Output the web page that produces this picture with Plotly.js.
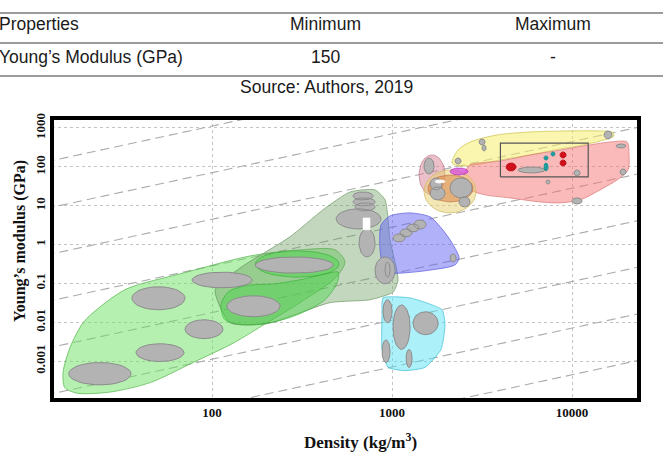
<!DOCTYPE html>
<html>
<head>
<meta charset="utf-8">
<script src="https://cdn.plot.ly/plotly-3.0.1.min.js"></script>
<style>
  html, body { margin: 0; padding: 0; background: #fff; }
  #chart { width: 663px; height: 456px; }
</style>
</head>
<body>
<div id="chart"></div>
<script>
// ---------- table shown above the chart ----------
const tableHeader = ['Properties', 'Minimum', 'Maximum'];
const tableRow = ['Young’s Modulus (GPa)', '150', '-'];
const tableSource = 'Source: Authors, 2019';

// ---------- axes ----------
const densityTicks = [100, 1000, 10000];
const densityTickText = ['100', '1000', '10000'];
const modulusTicks = [0.001, 0.01, 0.1, 1, 10, 100, 1000];
const modulusTickText = ['0.001', '0.01', '0.1', '1', '10', '100', '1000'];

// ---------- E/rho guide lines: log10 of the constant E/rho ----------
const guideLogC = [1.05, -0.15, -1.35, -2.55, -3.75, -4.95, -6.15, -7.35];
const guideDensity = [10, 30000];

// ---------- material family envelopes (density kg/m3, modulus GPa) ----------
const foamDensity = [14.9, 16.3, 19.2, 23.9, 33.7, 69, 163, 308, 483, 548, 483, 308, 202, 131, 78.4, 45.3, 27.1, 17.8, 15.2];
const foamModulus = [0.00053, 0.0023, 0.0097, 0.025, 0.073, 0.184, 0.51, 0.73, 0.73, 0.355, 0.137, 0.032, 0.0097, 0.0029, 0.00092, 0.00028, 0.00016, 0.00015, 0.00021];

const naturalDensity = [104, 143, 271, 413, 585, 805, 915, 975, 1080, 1013, 755, 453, 202, 126];
const naturalModulus = [0.068, 0.249, 1.58, 7.8, 22.6, 25.5, 14.1, 1.32, 0.124, 0.060, 0.038, 0.032, 0.0092, 0.0097];

const rigidFoamDensity = [112, 123, 152, 224, 308, 424, 502, 496, 424, 308, 224, 152, 118];
const rigidFoamModulus = [0.028, 0.060, 0.087, 0.098, 0.124, 0.174, 0.195, 0.104, 0.038, 0.0166, 0.0103, 0.0086, 0.0116];

const polymerDensity = [869, 975, 1259, 1627, 1896, 2156, 2357, 2240, 1627, 1108, 915, 858];
const polymerModulus = [3.2, 5.47, 6.53, 5.16, 2.52, 1.1, 0.455, 0.30, 0.22, 0.184, 0.195, 0.73];

const elastomerDensity = [891, 1259, 1896, 1970, 1872, 1525, 1181, 951, 880, 880];
const elastomerModulus = [0.0424, 0.0424, 0.021, 0.0086, 0.0020, 0.00069, 0.00057, 0.00069, 0.0020, 0.0156];

const ceramicDensity = [2156, 2328, 2713, 3833, 5843, 9141, 14310, 16680, 17100, 14310, 11510, 8040, 5843, 3981, 3083, 2387];
const ceramicModulus = [125.6, 272, 436, 661, 789, 838, 838, 789, 623, 463, 365, 272, 202, 150, 118, 105];

const metalDensity = [2545, 2713, 3981, 5843, 8040, 11510, 16260, 20220, 20730, 20470, 17790, 14310, 11080, 8575, 6640, 4524, 3287, 2713, 2480];
const metalModulus = [73.7, 111.6, 141, 202, 256, 344, 436, 436, 202, 83, 46, 25.5, 14.1, 11.8, 12.5, 15.9, 19, 25.5, 40.8];

// oval families: [density min, density max, modulus min, modulus max]
const flexFoamRing = [174, 508, 0.145, 0.69];
const glassOval = [1413, 1970, 19, 202];
const compositeOval = [1505, 2930, 6.53, 83];
const cfrpOval = [1585, 2819, 12.5, 61.8];
const gfrpOval = [2101, 2645, 61.8, 93.5];

// ---------- individual material bubbles (ranges) ----------
const bubbleDensityMin = [16, 37.8, 70.8, 35.9, 77.5, 121, 174, 489, 608, 608, 624, 656, 805,
  1013, 1108, 1212, 1324, 2101,
  891, 1013, 1308, 880, 1197,
  1505, 1627, 2101, 1627, 2357,
  3044, 3163, 2240, 15050,
  5013, 10260, 10000, 7171, 18480, 17560];
const bubbleDensityMax = [35.5, 69.9, 115, 70.8, 167, 239, 471, 869, 784, 805, 805, 805, 1039,
  1181, 1292, 1413, 1545, 2269,
  1000, 1259, 1803, 975, 1292,
  1711, 1970, 2784, 1896, 2713,
  3287, 3329, 2418, 16680,
  7078, 11080, 11370, 7545, 19960, 19960];
const bubbleModulusMin = [0.000245, 0.00098, 0.0038, 0.021, 0.077, 0.0139, 0.184, 2.52, 14.1, 9.9, 7.35, 0.48, 0.098,
  1.17, 1.58, 2.12, 2.52, 0.355,
  0.0097, 0.0020, 0.0048, 0.00092, 0.00069,
  65.5, 14.1, 15.9, 25.5, 9.3,
  365, 256, 118, 522,
  69.5, 58.2, 11.1, 36.3, 61.8, 306];
const bubbleModulusMax = [0.00092, 0.0028, 0.0116, 0.082, 0.195, 0.048, 0.48, 8.3, 22.6, 15.9, 11.8, 2.54, 0.48,
  1.89, 2.54, 3.39, 4.3, 0.576,
  0.038, 0.028, 0.0186, 0.0035, 0.0020,
  169, 30.5, 51.8, 51.8, 17,
  521, 365, 169, 838,
  99.2, 83, 15.9, 46, 88, 387];

// highlighted candidate materials
const redDensityMin = [4300, 8575, 8575];
const redDensityMax = [4886, 9261, 9261];
const redModulusMin = [78.2, 169, 105];
const redModulusMax = [125.6, 241.5, 150];

const tealDensityMin = [7643, 6985, 6985];
const tealDensityMax = [8040, 7357, 7357];
const tealModulusMin = [190, 150, 78.2];
const tealModulusMax = [241.5, 190, 125.6];

// white marks inside the families
const woodMark = [690, 755, 2.39, 4.84];
const cfrpMark = [1734, 1970, 38.5, 46];
const innerRing = [915, 975, 0.145, 0.355];

// selection box
const boxDensity = [4000, 12300];
const boxModulus = [55, 410];

// ---------- helpers ----------
const lg = Math.log10;
function ellipse(r, n) {
  n = n || 48;
  const cx = (lg(r[0]) + lg(r[1])) / 2, ax = (lg(r[1]) - lg(r[0])) / 2;
  const cy = (lg(r[2]) + lg(r[3])) / 2, ay = (lg(r[3]) - lg(r[2])) / 2;
  const x = [], y = [];
  for (let i = 0; i <= n; i++) {
    const t = 2 * Math.PI * i / n;
    x.push(Math.pow(10, cx + ax * Math.cos(t)));
    y.push(Math.pow(10, cy + ay * Math.sin(t)));
  }
  return { x, y };
}
function ellipseSet(dMin, dMax, eMin, eMax) {
  const x = [], y = [];
  for (let i = 0; i < dMin.length; i++) {
    const e = ellipse([dMin[i], dMax[i], eMin[i], eMax[i]], 36);
    if (i) { x.push(null); y.push(null); }
    x.push(...e.x); y.push(...e.y);
  }
  return { x, y };
}
function envelope(x, y, fill, line, smooth) {
  return {
    type: 'scatter', mode: 'lines', x: x.concat([x[0]]), y: y.concat([y[0]]),
    fill: 'toself', fillcolor: fill,
    line: { color: line, width: 1, shape: 'spline', smoothing: smooth === undefined ? 0.8 : smooth },
    hoverinfo: 'skip', showlegend: false
  };
}
function oval(r, fill, line) {
  const e = ellipse(r);
  return {
    type: 'scatter', mode: 'lines', x: e.x, y: e.y, fill: 'toself', fillcolor: fill,
    line: { color: line, width: 1 }, hoverinfo: 'skip', showlegend: false
  };
}

const traces = [];

// guide lines
guideLogC.forEach(c => {
  traces.push({
    type: 'scatter', mode: 'lines',
    x: guideDensity, y: guideDensity.map(d => d * Math.pow(10, c)),
    line: { color: '#ababab', width: 1.1, dash: '9px,5px' },
    hoverinfo: 'skip', showlegend: false
  });
});

// family envelopes
traces.push(envelope(foamDensity, foamModulus, 'rgba(110,225,100,0.5)', 'rgba(80,180,70,0.7)'));
traces.push(envelope(naturalDensity, naturalModulus, 'rgba(105,155,95,0.4)', 'rgba(90,140,80,0.6)', 0.6));
traces.push(envelope(rigidFoamDensity, rigidFoamModulus, 'rgba(60,215,60,0.4)', 'rgba(40,170,40,0.55)'));
traces.push(oval(flexFoamRing, 'rgba(60,215,60,0.4)', 'rgba(40,170,40,0.55)'));
traces.push(envelope(polymerDensity, polymerModulus, 'rgba(100,100,245,0.5)', 'rgba(90,90,220,0.7)', 0.7));
traces.push(envelope(elastomerDensity, elastomerModulus, 'rgba(90,228,245,0.5)', 'rgba(60,190,210,0.7)', 0.5));
traces.push(envelope(ceramicDensity, ceramicModulus, 'rgba(245,238,110,0.55)', 'rgba(210,200,90,0.8)'));
traces.push(envelope(metalDensity, metalModulus, 'rgba(245,110,110,0.48)', 'rgba(220,120,120,0.7)'));
traces.push(oval(glassOval, 'rgba(215,130,150,0.5)', 'rgba(190,120,140,0.7)'));
traces.push(oval(compositeOval, 'rgba(232,208,110,0.5)', 'rgba(205,185,100,0.7)'));
traces.push(oval(cfrpOval, 'rgba(215,120,60,0.5)', 'rgba(190,110,60,0.6)'));

// grey material bubbles
const gb = ellipseSet(bubbleDensityMin, bubbleDensityMax, bubbleModulusMin, bubbleModulusMax);
traces.push({
  type: 'scatter', mode: 'lines', x: gb.x, y: gb.y, fill: 'toself', fillcolor: '#b3b3b3',
  line: { color: '#8c8c8c', width: 1 }, hoverinfo: 'skip', showlegend: false
});
traces.push(oval(innerRing, 'rgba(0,0,0,0)', '#8c8c8c'));
traces.push(oval(gfrpOval, 'rgba(215,80,215,0.8)', 'rgba(190,60,190,0.8)'));

// white marks
traces.push({
  type: 'scatter', mode: 'lines',
  x: [woodMark[0], woodMark[1], woodMark[1], woodMark[0], woodMark[0]],
  y: [woodMark[2], woodMark[2], woodMark[3], woodMark[3], woodMark[2]],
  fill: 'toself', fillcolor: '#ffffff', line: { color: '#ffffff', width: 0.5 },
  hoverinfo: 'skip', showlegend: false
});
traces.push(oval(cfrpMark, '#ffffff', 'rgba(255,255,255,0.8)'));

// highlighted candidates
const rd = ellipseSet(redDensityMin, redDensityMax, redModulusMin, redModulusMax);
traces.push({
  type: 'scatter', mode: 'lines', x: rd.x, y: rd.y, fill: 'toself', fillcolor: '#d0101a',
  line: { color: '#c0101a', width: 1 }, hoverinfo: 'skip', showlegend: false
});
const td = ellipseSet(tealDensityMin, tealDensityMax, tealModulusMin, tealModulusMax);
traces.push({
  type: 'scatter', mode: 'lines', x: td.x, y: td.y, fill: 'toself', fillcolor: '#1fa0a0',
  line: { color: '#1a9090', width: 1 }, hoverinfo: 'skip', showlegend: false
});

// selection box
traces.push({
  type: 'scatter', mode: 'lines',
  x: [boxDensity[0], boxDensity[1], boxDensity[1], boxDensity[0], boxDensity[0]],
  y: [boxModulus[0], boxModulus[0], boxModulus[1], boxModulus[1], boxModulus[0]],
  line: { color: '#555', width: 1.2 }, hoverinfo: 'skip', showlegend: false
});

// ---------- layout (plot area 52..639 x 118..400 px) ----------
const M = { l: 52, r: 24, t: 118, b: 56 };
const PW = 663 - M.l - M.r, PH = 456 - M.t - M.b;
const fx = px => (px - M.l) / PW;
const fy = py => (M.t + PH - py) / PH;

const serif = 'Liberation Serif, Times New Roman, serif';
const sans = 'Liberation Sans, Arial, sans-serif';
const tableFont = { family: sans, size: 17.5, color: '#1a1a1a' };

const annotations = [];
function note(text, px, py, anchor, font, extra) {
  annotations.push(Object.assign({
    text, xref: 'paper', yref: 'paper', x: fx(px), y: fy(py),
    xanchor: anchor, yanchor: 'middle', showarrow: false, font
  }, extra || {}));
}
note(tableHeader[0], -3, 24, 'left', tableFont);
note(tableHeader[1], 325, 24, 'center', tableFont);
note(tableHeader[2], 553, 24, 'center', tableFont);
note(tableRow[0], -3, 57, 'left', tableFont);
note(tableRow[1], 325, 57, 'center', tableFont);
note(tableRow[2], 553, 57, 'center', tableFont);
note(tableSource, 326, 87, 'center', tableFont);

note('Young’s modulus (GPa)', 20, 241, 'center', { family: serif, size: 16, color: '#111', weight: 'bold' }, { textangle: -90 });
note('Density (kg/m<sup>3</sup>)', 360, 441, 'center', { family: serif, size: 17, color: '#111', weight: 'bold' });

const shapes = [];
[13, 43, 76].forEach(py => {
  shapes.push({ type: 'line', xref: 'paper', yref: 'paper', x0: fx(0), x1: fx(663), y0: fy(py), y1: fy(py),
    line: { color: '#7a7a7a', width: 1.5 } });
});
shapes.push({ type: 'rect', xref: 'paper', yref: 'paper', x0: 0, x1: 1, y0: 0, y1: 1,
  line: { color: '#000', width: 4 }, layer: 'above' });

const tickFont = { family: serif, size: 13, color: '#111', weight: 'bold' };
const layout = {
  width: 663, height: 456, margin: M,
  paper_bgcolor: '#fff', plot_bgcolor: '#fff',
  showlegend: false, hovermode: false,
  xaxis: {
    type: 'log', range: [1.111, 4.372], tickvals: densityTicks, ticktext: densityTickText,
    showgrid: true, gridcolor: '#c4c4c4', griddash: 'dot', gridwidth: 1,
    zeroline: false, showline: false, ticks: '', tickfont: tickFont, ticklabelstandoff: 3
  },
  yaxis: {
    type: 'log', range: [-4.0, 3.257], tickvals: modulusTicks, ticktext: modulusTickText,
    tickangle: -90, showgrid: true, gridcolor: '#c4c4c4', griddash: 'dot', gridwidth: 1,
    zeroline: false, showline: false, ticks: '', tickfont: tickFont, ticklabelstandoff: 3
  },
  annotations, shapes
};

Plotly.newPlot('chart', traces, layout, { staticPlot: true, displayModeBar: false });
</script>
</body>
</html>
